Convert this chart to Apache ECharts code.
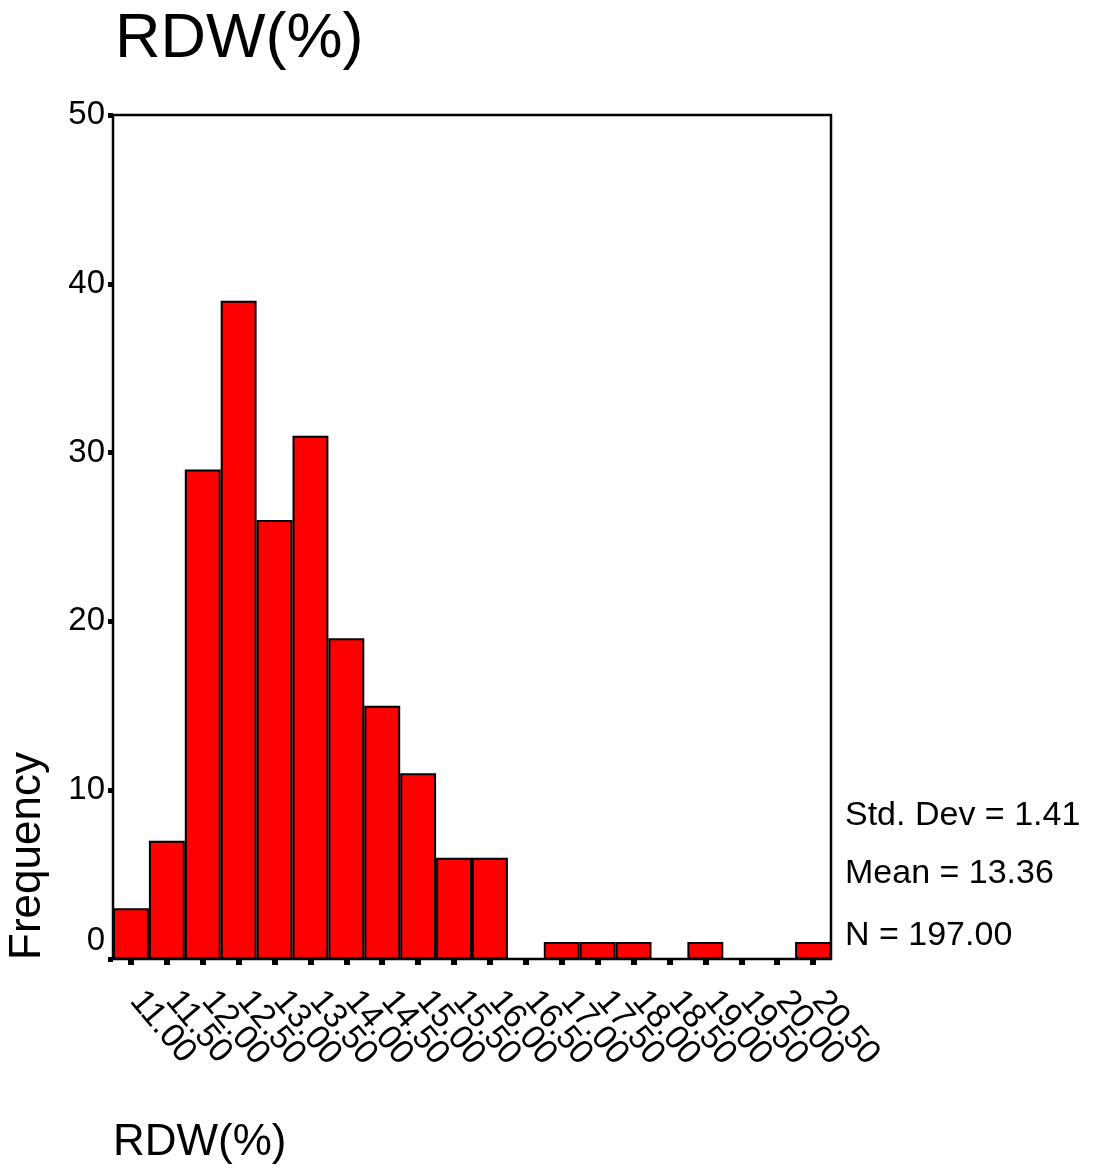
<!DOCTYPE html>
<html>
<head>
<meta charset="utf-8">
<script src="https://cdn.jsdelivr.net/npm/echarts@6/dist/echarts.min.js"></script>
<style>html,body{margin:0;padding:0;background:#fff;}#c{width:1094px;height:1174px;}</style>
</head>
<body>
<div id="c"></div>
<script>
const categories = ['11.00','11.50','12.00','12.50','13.00','13.50','14.00','14.50','15.00','15.50','16.00','16.50','17.00','17.50','18.00','18.50','19.00','19.50','20.00','20.50'];
const frequency = [3,7,29,39,26,31,19,15,11,6,6,0,1,1,1,0,1,0,0,1];
const yTicks = [0,10,20,30,40,50];
const statsLines = ['Std. Dev = 1.41','Mean = 13.36','N = 197.00'];
const titleText = 'RDW(%)';
const xName = 'RDW(%)';
const yName = 'Frequency';

const FONT = 'Liberation Sans, Arial, sans-serif';
const chart = echarts.init(document.getElementById('c'), null, {renderer:'canvas'});
chart.setOption({
  animation:false,
  backgroundColor:'#fff',
  title:{text:titleText,left:110,top:3,textStyle:{fontFamily:FONT,fontSize:63,fontWeight:'normal',color:'#000'}},
  grid:{left:113,right:263,top:115,bottom:215,show:true,borderColor:'#000',borderWidth:2.5,backgroundColor:'transparent'},
  xAxis:{type:'category',data:categories,offset:4,
    axisLine:{show:false},
    axisTick:{show:true,alignWithLabel:true,length:6,lineStyle:{width:6,color:'#000'}},
    axisLabel:{interval:0,rotate:-50,margin:26,padding:[0,0,0,8],fontFamily:FONT,fontSize:34,color:'#000'},
    splitLine:{show:false}},
  yAxis:{type:'value',min:yTicks[0],max:yTicks[yTicks.length-1],interval:10,
    axisLine:{show:false},
    axisTick:{show:true,length:5,lineStyle:{width:5,color:'#000'}},
    axisLabel:{margin:8,fontFamily:FONT,fontSize:33,color:'#000',
      formatter:function(v){return v===0?'{z|0}':String(v);},
      rich:{z:{fontFamily:FONT,fontSize:33,color:'#000',padding:[0,0,36,0]}}},
    splitLine:{show:false}},
  series:[{type:'bar',data:frequency,barWidth:'100%',barCategoryGap:0,
    itemStyle:{color:'#ff0000',borderColor:'#000',borderWidth:2}}],
  graphic:[
    {type:'text',x:50,y:960,rotation:Math.PI/2,style:{text:yName,font:'44px '+FONT,fill:'#000',textAlign:'left',textVerticalAlign:'bottom'}},
    {type:'text',x:113,y:1143,style:{text:xName,font:'44px '+FONT,fill:'#000',textAlign:'left',textVerticalAlign:'middle'}},
    {type:'text',x:845,y:816,style:{text:statsLines[0],font:'34px '+FONT,fill:'#000',textVerticalAlign:'middle'}},
    {type:'text',x:845,y:874,style:{text:statsLines[1],font:'34px '+FONT,fill:'#000',textVerticalAlign:'middle'}},
    {type:'text',x:845,y:936,style:{text:statsLines[2],font:'34px '+FONT,fill:'#000',textVerticalAlign:'middle'}}
  ]
});
</script>
</body>
</html>
